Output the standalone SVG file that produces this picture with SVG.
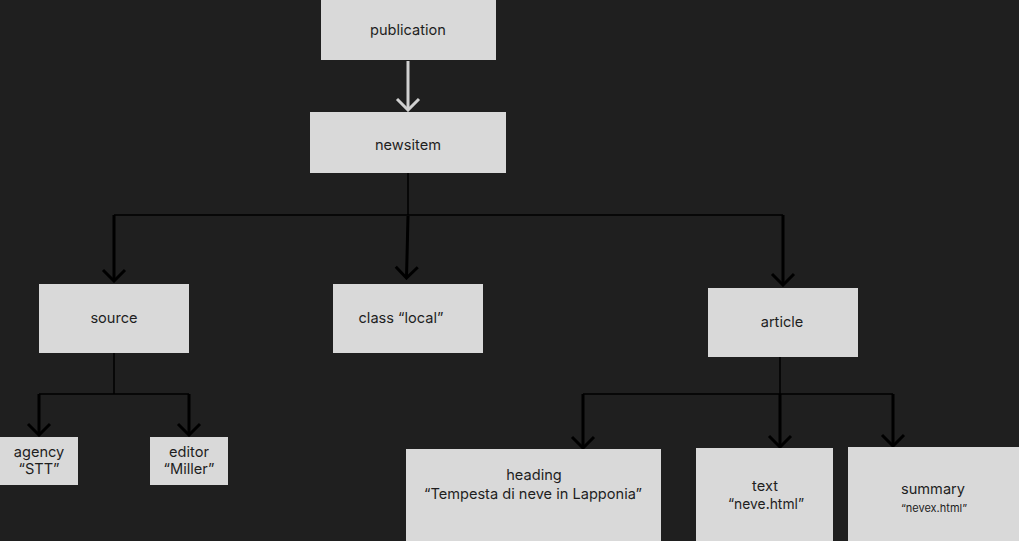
<svg xmlns="http://www.w3.org/2000/svg" width="1019" height="541" viewBox="0 0 1019 541">
<defs>
<style>
.box{fill:#d9d9d9}
.t{font-family:Inter,"Liberation Sans",sans-serif;font-size:14.6px;fill:#1e1e1e;text-anchor:middle}
.s{font-size:11px}
.thin{stroke:#000;stroke-width:1.5;fill:none}
.arr{stroke:#000;stroke-width:3;fill:none;marker-end:url(#ch)}
.arrg{stroke:#d0d0d0;stroke-width:3;fill:none;marker-end:url(#chg)}
</style>
<marker id="ch" markerUnits="userSpaceOnUse" viewBox="-14 -14 16 28" refX="0" refY="0" markerWidth="16" markerHeight="28" orient="auto">
<path d="M-11,-11 L0,0 L-11,11" fill="none" stroke="#000" stroke-width="3"/>
</marker>
<marker id="chg" markerUnits="userSpaceOnUse" viewBox="-14 -14 16 28" refX="0" refY="0" markerWidth="16" markerHeight="28" orient="auto">
<path d="M-11,-11 L0,0 L-11,11" fill="none" stroke="#d0d0d0" stroke-width="3"/>
</marker>
</defs>
<rect width="1019" height="541" fill="#1f1f1f"/>
<g id="connectors">
<path class="arrg" d="M408,61 L408,110"/>
<path class="thin" d="M408,173 L408,215 M114,215 L783,215"/>
<path class="arr" d="M114,215 L114,281"/>
<path class="arr" d="M408,216 L406.5,278"/>
<path class="arr" d="M783,215 L783,285"/>
<path class="thin" d="M114,353 L114,394 M39,394 L189,394"/>
<path class="arr" d="M39,394 L39,435"/>
<path class="arr" d="M189,394 L189,435"/>
<path class="thin" d="M780,357 L780,394 M583,394 L893,394"/>
<path class="arr" d="M583,394 L583,448"/>
<path class="arr" d="M780,394 L780,447"/>
<path class="arr" d="M893,394 L893,446"/>
</g>
<g id="publication"><rect class="box" x="321" y="0" width="175" height="60"/><text class="t" x="408" y="35">publication</text></g>
<g id="newsitem"><rect class="box" x="310" y="112" width="196" height="61"/><text class="t" x="408" y="150">newsitem</text></g>
<g id="source"><rect class="box" x="39" y="284" width="150" height="69"/><text class="t" x="114" y="323">source</text></g>
<g id="class"><rect class="box" x="333" y="284" width="150" height="69"/><text class="t" x="401" y="323">class “local”</text></g>
<g id="article"><rect class="box" x="708" y="288" width="150" height="69"/><text class="t" x="782" y="327">article</text></g>
<g id="agency"><rect class="box" x="0" y="437" width="78" height="48"/><text class="t" x="39" y="457">agency</text><text class="t" x="39" y="474">“STT”</text></g>
<g id="editor"><rect class="box" x="150" y="437" width="78" height="48"/><text class="t" x="189" y="457">editor</text><text class="t" x="189" y="474">“Miller”</text></g>
<g id="heading"><rect class="box" x="406" y="449" width="255" height="92"/><text class="t" x="534" y="480">heading</text><text class="t" x="533" y="499">“Tempesta di neve in Lapponia”</text></g>
<g id="text"><rect class="box" x="696" y="448" width="137" height="93"/><text class="t" x="765" y="491">text</text><text class="t" x="766" y="509" textLength="76" lengthAdjust="spacingAndGlyphs">“neve.html”</text></g>
<g id="summary"><rect class="box" x="848" y="447" width="171" height="94"/><text class="t" x="933" y="494">summary</text><text class="t s" x="934" y="512">“nevex.html”</text></g>
</svg>
